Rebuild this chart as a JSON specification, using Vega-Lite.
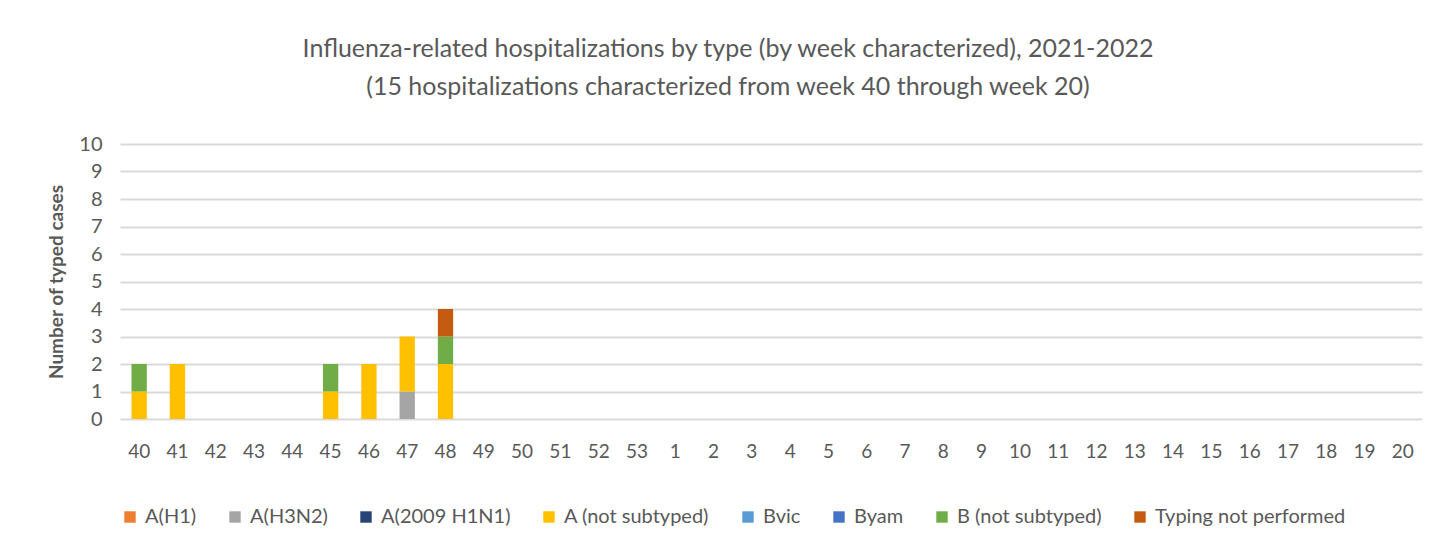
{
  "$schema": "https://vega.github.io/schema/vega-lite/v6.json",
  "width": 1302,
  "height": 275,
  "autosize": {"type": "none"},
  "padding": {"left": 120, "top": 144, "right": 34, "bottom": 133},
  "background": "white",
  "title": {
    "text": ["Influenza-related hospitalizations by type (by week characterized), 2021-2022", "(15 hospitalizations characterized from week 40 through week 20)"],
    "font": "Lato",
    "fontSize": 25,
    "fontWeight": "normal",
    "color": "#595959",
    "lineHeight": 38,
    "offset": 34,
    "dx": -43,
    "anchor": "middle"
  },
  "data": {
    "values": [
      {"week": "40", "type": "A (not subtyped)", "cases": 1},
      {"week": "40", "type": "B (not subtyped)", "cases": 1},
      {"week": "41", "type": "A (not subtyped)", "cases": 2},
      {"week": "42", "type": "A (not subtyped)", "cases": 0},
      {"week": "43", "type": "A (not subtyped)", "cases": 0},
      {"week": "44", "type": "A (not subtyped)", "cases": 0},
      {"week": "45", "type": "A (not subtyped)", "cases": 1},
      {"week": "45", "type": "B (not subtyped)", "cases": 1},
      {"week": "46", "type": "A (not subtyped)", "cases": 2},
      {"week": "47", "type": "A(H3N2)", "cases": 1},
      {"week": "47", "type": "A (not subtyped)", "cases": 2},
      {"week": "48", "type": "A (not subtyped)", "cases": 2},
      {"week": "48", "type": "B (not subtyped)", "cases": 1},
      {"week": "48", "type": "Typing not performed", "cases": 1},
      {"week": "49", "type": "A (not subtyped)", "cases": 0},
      {"week": "50", "type": "A (not subtyped)", "cases": 0},
      {"week": "51", "type": "A (not subtyped)", "cases": 0},
      {"week": "52", "type": "A (not subtyped)", "cases": 0},
      {"week": "53", "type": "A (not subtyped)", "cases": 0},
      {"week": "1", "type": "A (not subtyped)", "cases": 0},
      {"week": "2", "type": "A (not subtyped)", "cases": 0},
      {"week": "3", "type": "A (not subtyped)", "cases": 0},
      {"week": "4", "type": "A (not subtyped)", "cases": 0},
      {"week": "5", "type": "A (not subtyped)", "cases": 0},
      {"week": "6", "type": "A (not subtyped)", "cases": 0},
      {"week": "7", "type": "A (not subtyped)", "cases": 0},
      {"week": "8", "type": "A (not subtyped)", "cases": 0},
      {"week": "9", "type": "A (not subtyped)", "cases": 0},
      {"week": "10", "type": "A (not subtyped)", "cases": 0},
      {"week": "11", "type": "A (not subtyped)", "cases": 0},
      {"week": "12", "type": "A (not subtyped)", "cases": 0},
      {"week": "13", "type": "A (not subtyped)", "cases": 0},
      {"week": "14", "type": "A (not subtyped)", "cases": 0},
      {"week": "15", "type": "A (not subtyped)", "cases": 0},
      {"week": "16", "type": "A (not subtyped)", "cases": 0},
      {"week": "17", "type": "A (not subtyped)", "cases": 0},
      {"week": "18", "type": "A (not subtyped)", "cases": 0},
      {"week": "19", "type": "A (not subtyped)", "cases": 0},
      {"week": "20", "type": "A (not subtyped)", "cases": 0},
      {"week": "20", "type": "A(H1)", "cases": 0},
      {"week": "20", "type": "A(2009 H1N1)", "cases": 0},
      {"week": "20", "type": "Bvic", "cases": 0},
      {"week": "20", "type": "Byam", "cases": 0}
    ]
  },
  "transform": [
    {"calculate": "indexof(['A(H1)','A(H3N2)','A(2009 H1N1)','A (not subtyped)','Bvic','Byam','B (not subtyped)','Typing not performed'], datum.type)", "as": "typeOrder"}
  ],
  "mark": {"type": "bar", "width": {"band": 0.4}},
  "encoding": {
    "x": {
      "field": "week",
      "type": "ordinal",
      "sort": ["40","41","42","43","44","45","46","47","48","49","50","51","52","53","1","2","3","4","5","6","7","8","9","10","11","12","13","14","15","16","17","18","19","20"],
      "scale": {"paddingInner": 0, "paddingOuter": 0},
      "axis": {
        "title": null,
        "labelAngle": 0,
        "labelFont": "Lato",
        "labelFontSize": 19,
        "labelColor": "#595959",
        "labelPadding": 23,
        "ticks": false,
        "domain": false,
        "grid": false
      }
    },
    "y": {
      "field": "cases",
      "type": "quantitative",
      "aggregate": "sum",
      "stack": "zero",
      "scale": {"domain": [0, 10], "nice": false},
      "axis": {
        "title": "Number of typed cases",
        "titleFont": "Lato",
        "titleFontSize": 19,
        "titleFontWeight": "bold",
        "titleColor": "#595959",
        "titlePadding": 12,
        "values": [0,1,2,3,4,5,6,7,8,9,10],
        "labelFont": "Lato",
        "labelFontSize": 20,
        "labelColor": "#595959",
        "labelPadding": 18,
        "ticks": false,
        "domain": false,
        "grid": true,
        "gridColor": "#d9d9d9",
        "gridWidth": 2
      }
    },
    "color": {
      "field": "type",
      "type": "nominal",
      "scale": {
        "domain": ["A(H1)","A(H3N2)","A(2009 H1N1)","A (not subtyped)","Bvic","Byam","B (not subtyped)","Typing not performed"],
        "range": ["#ED7D31","#A5A5A5","#264478","#FFC000","#5B9BD5","#4472C4","#70AD47","#C55A11"]
      },
      "legend": {
        "title": null,
        "orient": "bottom",
        "direction": "horizontal",
        "offset": 46,
        "symbolType": "square",
        "symbolSize": 130,
        "symbolStrokeWidth": 0,
        "labelFont": "Lato",
        "labelFontSize": 20,
        "labelLimit": 400,
        "labelColor": "#595959",
        "labelOffset": 5,
        "columnPadding": 28
      }
    },
    "order": {"field": "typeOrder", "type": "quantitative", "aggregate": "min", "sort": "ascending"}
  },
  "config": {
    "view": {"stroke": null}
  }
}
